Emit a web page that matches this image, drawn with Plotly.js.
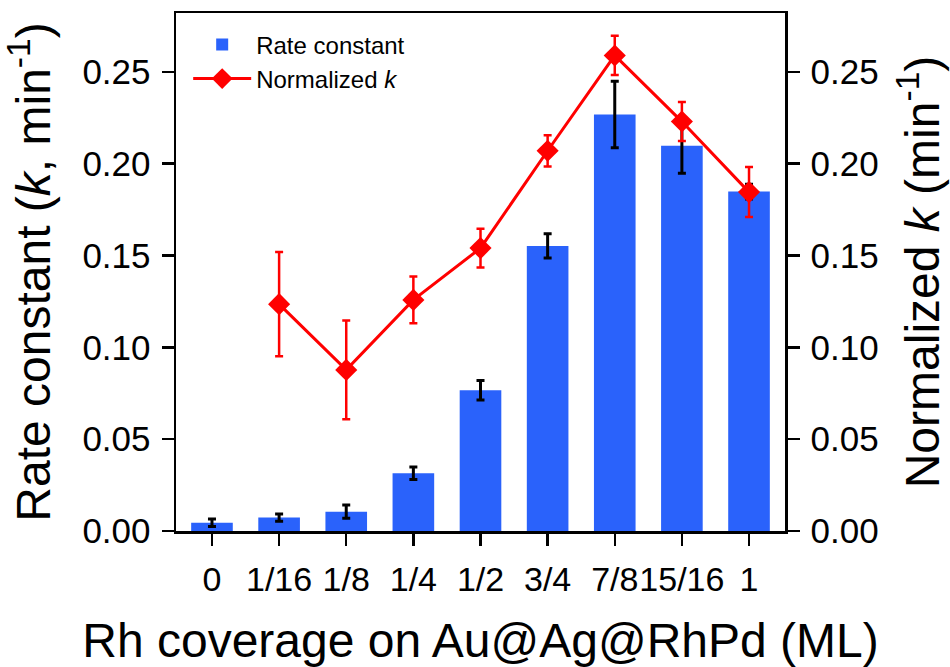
<!DOCTYPE html>
<html>
<head>
<meta charset="utf-8">
<script src="https://cdn.plot.ly/plotly-3.0.1.min.js"></script>
<style>html,body{margin:0;padding:0;background:#fff;}#chart{width:950px;height:667px;}</style>
</head>
<body>
<div id="chart"></div>
<script>
const categories = ['0', '1/16', '1/8', '1/4', '1/2', '3/4', '7/8', '15/16', '1'];
const rateConstant = [0.0045, 0.0073, 0.0105, 0.0314, 0.0766, 0.1552, 0.2268, 0.2097, 0.1848];
const rateErr = [0.0020, 0.0020, 0.0036, 0.0034, 0.0053, 0.0066, 0.0181, 0.0149, 0.0040];
const normalizedK = [null, 0.1235, 0.0877, 0.1258, 0.1540, 0.2070, 0.2589, 0.2229, 0.1845];
const normalizedErr = [null, 0.0284, 0.0269, 0.0127, 0.0105, 0.0085, 0.0107, 0.0106, 0.0136];
const yTicks = [0, 0.05, 0.10, 0.15, 0.20, 0.25];
const yTickText = ['0.00', '0.05', '0.10', '0.15', '0.20', '0.25'];

const FONT = 'Liberation Sans, Arial, Helvetica, sans-serif';

const traces = [
  {
    type: 'bar',
    name: 'Rate constant',
    x: categories,
    y: rateConstant,
    marker: {color: '#2a62fb'},
    error_y: {type: 'data', array: rateErr, visible: true, color: '#000000', thickness: 3, width: 4},
    yaxis: 'y'
  },
  {
    type: 'scatter',
    mode: 'lines+markers',
    name: 'Normalized <i>k</i>',
    x: categories,
    y: normalizedK,
    yaxis: 'y2',
    line: {color: '#ff0000', width: 3},
    marker: {symbol: 'diamond', size: 17, color: '#ff0000'},
    error_y: {type: 'data', array: normalizedErr, visible: true, color: '#ff0000', thickness: 2.5, width: 4}
  }
];

const commonY = {
  range: [0, 0.282],
  tickvals: yTicks,
  ticktext: yTickText,
  ticks: 'outside',
  ticklen: 12,
  tickwidth: 2.5,
  tickcolor: '#000',
  showline: true,
  linecolor: '#000',
  linewidth: 2.5,
  showgrid: false,
  zeroline: false,
  tickfont: {family: FONT, size: 35, color: '#000'},
  fixedrange: true
};

const layout = {
  width: 950,
  height: 667,
  margin: {l: 176, r: 165, t: 13, b: 136},
  paper_bgcolor: '#ffffff',
  plot_bgcolor: '#ffffff',
  font: {family: FONT, color: '#000'},
  bargap: 0.38,
  showlegend: true,
  legend: {
    x: 0.02, y: 0.982, xanchor: 'left', yanchor: 'top',
    bgcolor: 'rgba(0,0,0,0)',
    font: {family: FONT, size: 24, color: '#000'},
    itemwidth: 58,
    tracegroupgap: 0
  },
  xaxis: {
    type: 'category',
    range: [-0.536, 8.536],
    ticks: 'outside',
    ticklen: 12,
    tickwidth: 2.5,
    tickcolor: '#000',
    showline: true,
    linecolor: '#000',
    linewidth: 2.5,
    mirror: true,
    showgrid: false,
    tickangle: 0,
    tickfont: {family: FONT, size: 34, color: '#000'},
    ticklabelstandoff: 5,
    title: {text: 'Rh coverage on Au@Ag@RhPd (ML)', font: {family: FONT, size: 48, color: '#000'}, standoff: 26},
    fixedrange: true
  },
  yaxis: Object.assign({}, commonY, {
    side: 'left',
    ticklabelstandoff: 4,
    title: {text: 'Rate constant (<i>k</i>, min<sup>-1</sup>)', font: {family: FONT, size: 48, color: '#000'}, standoff: 22}
  }),
  yaxis2: Object.assign({}, commonY, {
    side: 'right',
    overlaying: 'y',
    ticklabelstandoff: 4,
    title: {text: 'Normalized <i>k</i> (min<sup>-1</sup>)', font: {family: FONT, size: 48, color: '#000'}, standoff: 28}
  })
};

Plotly.newPlot('chart', traces, layout, {displayModeBar: false, staticPlot: true});
</script>
</body>
</html>
